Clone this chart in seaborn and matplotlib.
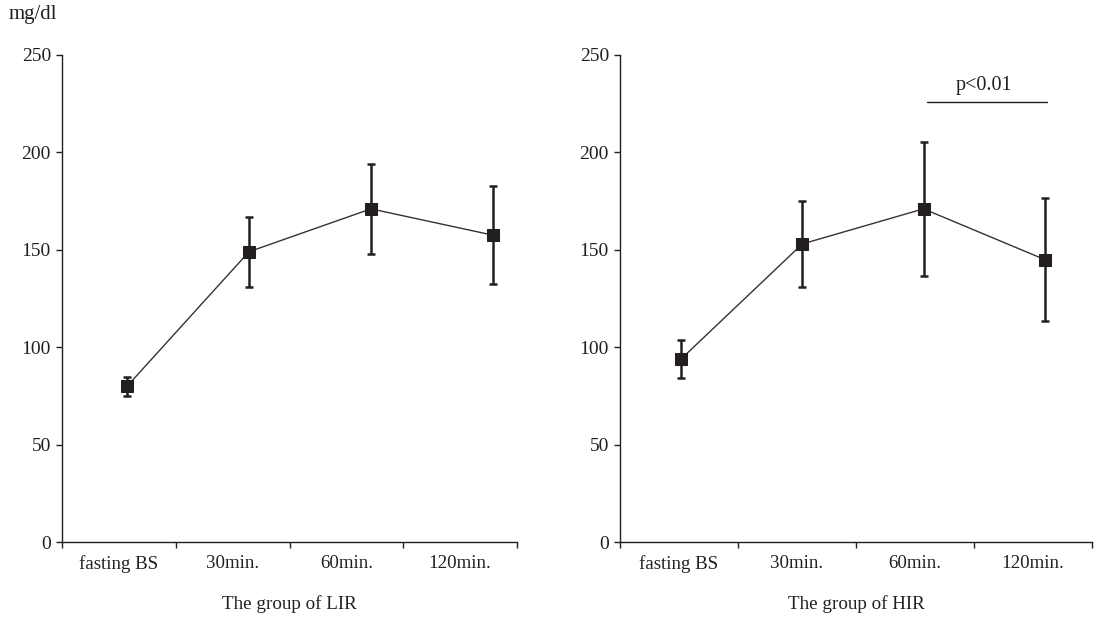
import numpy as np
import pandas as pd
import matplotlib
matplotlib.use("Agg")
import matplotlib.pyplot as plt
import seaborn as sns

# ---- data ----
categories = ["fasting BS", "30min.", "60min.", "120min."]
lir_mean = [80, 149, 171, 157.5]
lir_err = [5, 18, 23, 25]
hir_mean = [94, 153, 171, 145]
hir_err = [9.5, 22, 34.5, 31.5]
y_ticks = [0, 50, 100, 150, 200, 250]
group_labels = ["The group of LIR", "The group of HIR"]
unit_label = "mg/dl"
sig_text = "p<0.01"
sig_pair = [2, 3]       # 60min. vs 120min. in HIR
sig_level = 226

INK = "#231f20"

sns.set_theme(style="ticks")
plt.rcParams["font.family"] = ["Liberation Serif", "DejaVu Serif"]
plt.rcParams["text.color"] = INK
plt.rcParams["axes.labelcolor"] = INK
plt.rcParams["xtick.color"] = INK
plt.rcParams["ytick.color"] = INK

W, H = 1097, 618
fig = plt.figure(figsize=(W / 100, H / 100), dpi=100)
y0, y1 = 542.3, 54.8
ax1 = fig.add_axes([62 / W, 1 - y0 / H, 455 / W, (y0 - y1) / H])
ax2 = fig.add_axes([620 / W, 1 - y0 / H, 472 / W, (y0 - y1) / H])

panels = [
    (ax1, lir_mean, lir_err, group_labels[0], (-0.533, 3.197)),
    (ax2, hir_mean, hir_err, group_labels[1], (-0.504, 3.39)),
]

for ax, mean, err, glabel, xl in panels:
    df = pd.DataFrame({"pos": np.arange(len(categories)), "value": mean, "err": err})
    ax.errorbar(df["pos"], df["value"], yerr=df["err"], fmt="none",
                ecolor=INK, elinewidth=1.8, capsize=3.2, capthick=1.8, zorder=2)
    sns.lineplot(data=df, x="pos", y="value", ax=ax, color="#333333", linewidth=1.0,
                 marker="s", markersize=8, markeredgecolor=INK, markerfacecolor=INK,
                 zorder=3)
    ax.set_xlim(*xl)
    ax.set_ylim(0, 250)
    ax.set_yticks(y_ticks)
    ax.set_yticklabels([str(t) for t in y_ticks], fontsize=14)
    bounds = np.linspace(xl[0], xl[1], len(categories) + 1)
    mids = (bounds[:-1] + bounds[1:]) / 2
    ax.set_xticks(bounds)
    ax.set_xticklabels([""] * len(bounds))
    ax.set_xticks(mids, minor=True)
    ax.set_xticklabels(categories, minor=True, fontsize=13.6)
    ax.tick_params(axis="x", which="minor", length=0, pad=9)
    ax.tick_params(axis="x", which="major", length=4, width=1, direction="out")
    ax.tick_params(axis="y", length=4, width=1, direction="out", pad=4)
    ax.set_xlabel(glabel, fontsize=13.7, labelpad=16)
    ax.set_ylabel("")
    for s in ["top", "right"]:
        ax.spines[s].set_visible(False)
    for s in ["left", "bottom"]:
        ax.spines[s].set_color(INK)
        ax.spines[s].set_linewidth(1.0)

# significance bar in HIR panel
ax2.plot([sig_pair[0] + 0.03, sig_pair[1] + 0.02], [sig_level, sig_level],
         color=INK, linewidth=1.0)
ax2.text(np.mean(sig_pair), sig_level + 8.5, sig_text, ha="center", va="center", fontsize=14.5)

fig.text(9 / W, 1 - 15 / H, unit_label, ha="left", va="center", fontsize=15)

fig.savefig("out.png", dpi=100, facecolor="white")
